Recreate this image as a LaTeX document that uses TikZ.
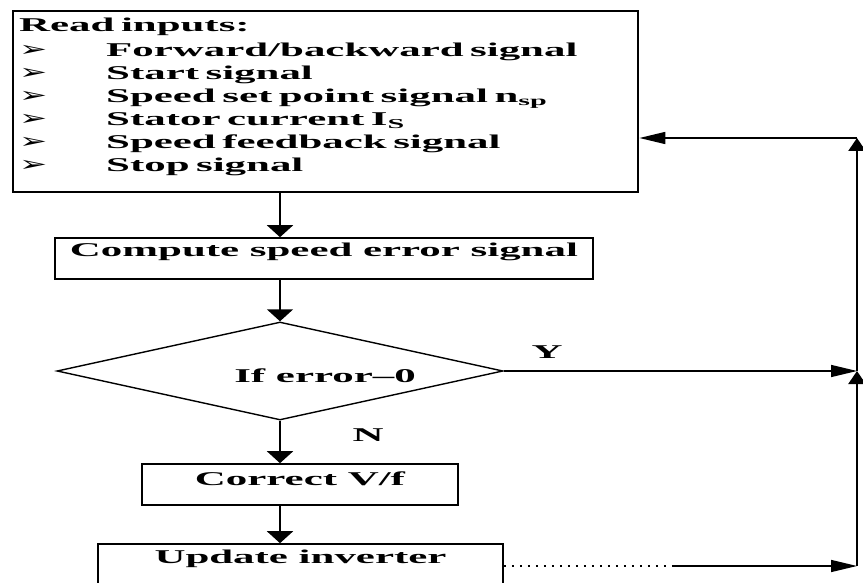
\documentclass[tikz,border=0pt]{standalone}
\usepackage{fontspec}
\setmainfont{Liberation Serif}[FakeStretch=2.2]
\newfontfamily\dingfont{DejaVu Sans}[FakeStretch=1.6]
\usetikzlibrary{arrows.meta,shapes.geometric}

% bullet marker followed by a fixed indent
\newcommand{\bul}{\makebox[87pt][l]{\dingfont\fontsize{21}{21}\selectfont ➢}}

\tikzset{
  txt/.style={font={\bfseries\fontsize{19.5}{23}\selectfont}},
  stepbox/.style={draw, line width=1.6pt, rectangle, inner sep=0pt, txt},
  inbox/.style={draw, line width=2.4pt, rectangle, txt},
  decbox/.style={draw, line width=1.4pt, diamond, inner sep=0pt, txt},
  vflow/.style={line width=2pt, -{Triangle[width=26pt,length=12pt]}},
  hflow/.style={line width=1.5pt, -{Triangle[width=12pt,length=26pt]}},
  upflow/.style={line width=2.4pt, -{Triangle[width=17pt,length=13pt]}},
  faint/.style={line width=1.4pt, dash pattern=on 2pt off 6pt},
  lbl/.style={inner sep=0pt, txt}
}

\begin{document}
\begin{tikzpicture}[x=1pt, y=-1pt]
  \clip (0,0) rectangle (863,583);
  \useasboundingbox (0,0) rectangle (863,583);

  % input list
  \node[inbox, anchor=north west, minimum width=625pt, minimum height=181pt,
        text width=613pt, align=left, inner xsep=6pt, inner ysep=0pt] (inputs) at (12,10)
    {Read inputs:\\[2pt]
     \bul Forward/backward signal\\
     \bul Start signal\\
     \bul Speed set point signal n\textsubscript{sp}\\
     \bul Stator current I\textsubscript{S}\\
     \bul Speed feedback signal\\
     \bul Stop signal\rule[-14pt]{0pt}{1pt}};

  % processing steps
  \node[stepbox, minimum width=538pt, minimum height=41pt,
        text height=13.5pt, text depth=16.5pt] (comp) at (324,258.5) {Compute speed error signal};
  \node[decbox, minimum width=446pt, minimum height=98pt, aspect=4.55,
        text height=22pt, text depth=0pt] (dec) at (280,371) {\hspace*{90pt}If error–0};
  \node[stepbox, minimum width=316pt, minimum height=41pt,
        text height=13.5pt, text depth=12.5pt] (corr) at (300,484.5) {Correct V/f};
  \node[stepbox, minimum width=405pt, minimum height=60pt,
        text height=13.5pt, text depth=34.5pt] (upd) at (300.5,574) {Update inverter};

  % branch labels
  \node[lbl] (ylab) at (547,352) {Y};
  \node[lbl] (nlab) at (368,435) {N};

  % return rail on the right
  \coordinate (ytop) at (857,138);
  \coordinate (ymid) at (dec.east -| ytop);
  \coordinate (ybot) at (857,566);
  \coordinate (dotend) at (672,566);

  % main flow
  \draw[vflow] (inputs.south -| dec.north) -- (comp.north -| dec.north);
  \draw[vflow] (comp.south -| dec.north) -- (dec.north);
  \draw[vflow] (dec.south) -- (corr.north -| dec.south);
  \draw[vflow] (corr.south -| dec.south) -- (upd.north -| dec.south);

  % loop back
  \draw[hflow] (dec.east) -- (ymid);
  \draw[faint] (ybot -| upd.east) -- (dotend);
  \draw[hflow] (dotend) -- (ybot);
  \draw[upflow] (ybot) -- (ymid);
  \draw[upflow] (ymid) -- (ytop);
  \draw[hflow] (ytop) -- (ytop -| inputs.east);
\end{tikzpicture}
\end{document}
